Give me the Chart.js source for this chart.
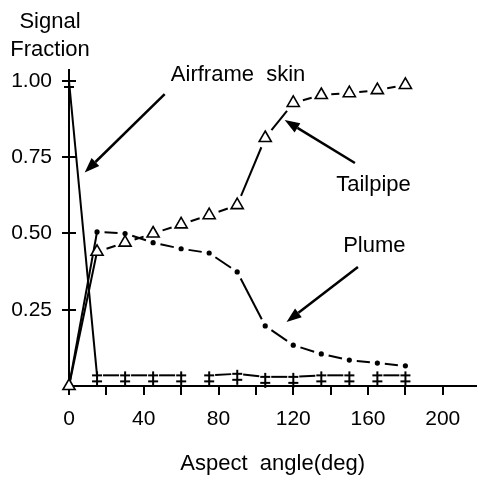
<!DOCTYPE html>
<html>
<head>
<meta charset="utf-8">
<script src="https://cdn.jsdelivr.net/npm/chart.js@4/dist/chart.umd.min.js"></script>
<style>
html,body{margin:0;padding:0;background:#fff;}
canvas{display:block;}
</style>
</head>
<body>
<canvas id="c" width="485" height="480" style="width:485px;height:480px"></canvas>
<script>
// ---- data ----
const angles       = [0, 15, 30, 45, 60, 75, 90, 105, 120, 135, 150, 165, 180];
const airframeSkin = [1.00, 0.035, 0.035, 0.035, 0.035, 0.035, 0.04, 0.03, 0.03, 0.035, 0.035, 0.035, 0.035];
const tailpipe     = [0.00, 0.44, 0.47, 0.50, 0.53, 0.56, 0.593, 0.813, 0.928, 0.954, 0.96, 0.97, 0.987];
const plume        = [0.00, 0.505, 0.50, 0.47, 0.45, 0.436, 0.374, 0.197, 0.134, 0.105, 0.085, 0.075, 0.066];
const xTickValues  = [0, 20, 40, 60, 80, 100, 120, 140, 160, 180, 200];
const xLabelEvery  = 40;
const yTickValues  = [0.25, 0.50, 0.75, 1.00];
const yTitleLines  = ['Signal', 'Fraction'];
const xTitle       = 'Aspect  angle(deg)';
// annotations: label text, label anchor (data units), arrow tail -> head (data units)
const annotations = [
  {text: 'Airframe  skin', at: [54.5, 1.02], from: [51.2, 0.957], to: [8.4, 0.70]},
  {text: 'Tailpipe',       at: [143.0, 0.66], from: [153.0, 0.731], to: [115.4, 0.872]},
  {text: 'Plume',          at: [146.7, 0.46], from: [154.6, 0.39], to: [116.4, 0.21]}
];

const FONT = '"Liberation Sans", Arial, sans-serif';

function pts(ys){ return angles.map((a,i)=>({x:a, y:ys[i]})); }

// double-cross marker (upper bar sits on the data point)
function doubleCross(){
  const c = document.createElement('canvas');
  c.width = 12; c.height = 26;
  const g = c.getContext('2d');
  g.strokeStyle = '#000'; g.lineWidth = 2;
  g.beginPath();
  g.moveTo(6, 9); g.lineTo(6, 24);
  g.moveTo(1, 13); g.lineTo(11, 13);
  g.moveTo(1, 19); g.lineTo(11, 19);
  g.stroke();
  return c;
}

// segment style: first segment solid, later ones a single dash with gaps at the markers
function segDash(gap){
  return ctx => {
    if (ctx.p0DataIndex === 0) return [];
    const len = Math.hypot(ctx.p1.x - ctx.p0.x, ctx.p1.y - ctx.p0.y);
    const d = Math.max(len - 2*gap, 1);
    return [d, 2*gap + 400];
  };
}
function segOffset(gap){
  return ctx => ctx.p0DataIndex === 0 ? 0 : -gap;
}

const axisTicksPlugin = {
  id: 'axisTicks',
  afterDraw(chart){
    const c = chart.ctx, y = chart.scales.y, x = chart.scales.x, ca = chart.chartArea;
    c.save();
    c.strokeStyle = '#000'; c.lineWidth = 2;
    c.beginPath();
    yTickValues.forEach(v => {
      const py = Math.round(y.getPixelForValue(v));
      c.moveTo(ca.left - 7, py); c.lineTo(ca.left + 7, py);
    });
    xTickValues.forEach(v => {
      if (v === 0) return;
      const px = Math.round(x.getPixelForValue(v));
      c.moveTo(px, ca.bottom); c.lineTo(px, ca.bottom + 9);
    });
    c.stroke();
    c.restore();
  }
};

const textPlugin = {
  id: 'texts',
  afterDatasetsDraw(chart){
    const c = chart.ctx, xs = chart.scales.x, ys = chart.scales.y;
    c.save();
    c.fillStyle = '#000';
    c.font = '22px ' + FONT;
    c.textAlign = 'center';
    c.textBaseline = 'alphabetic';
    c.fillText(yTitleLines[0], 50, 28);
    c.fillText(yTitleLines[1], 50, 56);
    c.textAlign = 'left';
    c.textBaseline = 'middle';
    annotations.forEach(a => {
      c.fillText(a.text, xs.getPixelForValue(a.at[0]), ys.getPixelForValue(a.at[1]));
      const x0 = xs.getPixelForValue(a.from[0]), y0 = ys.getPixelForValue(a.from[1]);
      const x1 = xs.getPixelForValue(a.to[0]),   y1 = ys.getPixelForValue(a.to[1]);
      const ang = Math.atan2(y1 - y0, x1 - x0);
      const hl = 15, hw = 5.5;
      const bx = x1 - hl*Math.cos(ang), by = y1 - hl*Math.sin(ang);
      c.strokeStyle = '#000'; c.lineWidth = 2.5;
      c.beginPath(); c.moveTo(x0, y0); c.lineTo(bx, by); c.stroke();
      c.beginPath();
      c.moveTo(x1, y1);
      c.lineTo(bx + hw*Math.sin(ang), by - hw*Math.cos(ang));
      c.lineTo(bx - hw*Math.sin(ang), by + hw*Math.cos(ang));
      c.closePath(); c.fill();
    });
    c.restore();
  }
};

const cross = doubleCross();

new Chart(document.getElementById('c'), {
  type: 'scatter',
  data: {
    datasets: [
      {
        label: 'Tailpipe', data: pts(tailpipe), showLine: true, clip: false,
        borderColor: '#000', borderWidth: 2,
        pointStyle: 'triangle', pointRadius: 7, pointBorderWidth: 1.6,
        pointBackgroundColor: '#fff', pointBorderColor: '#000',
        segment: {borderDash: segDash(10), borderDashOffset: segOffset(10)}
      },
      {
        label: 'Plume', data: pts(plume), showLine: true, clip: false,
        borderColor: '#000', borderWidth: 2,
        pointStyle: 'circle', pointRadius: 2.6, pointBorderWidth: 0,
        pointBackgroundColor: '#000', pointBorderColor: '#000',
        segment: {borderDash: segDash(7.5), borderDashOffset: segOffset(7.5)}
      },
      {
        label: 'Airframe skin', data: pts(airframeSkin), showLine: true, clip: false,
        borderColor: '#000', borderWidth: 2,
        pointStyle: cross, pointRadius: 6,
        segment: {borderDash: segDash(6), borderDashOffset: segOffset(6)}
      }
    ]
  },
  options: {
    responsive: false,
    animation: false,
    devicePixelRatio: 1,
    layout: {padding: {top: 70, right: 0, left: 0, bottom: 0}},
    plugins: {legend: {display: false}, tooltip: {enabled: false}},
    elements: {line: {tension: 0}},
    scales: {
      x: {
        type: 'linear', min: 0, max: 218,
        afterFit: s => { s.height = 94; },
        afterBuildTicks: s => { s.ticks = xTickValues.map(v => ({value: v})); },
        border: {display: true, color: '#000', width: 2},
        grid: {display: true, drawOnChartArea: false, drawTicks: true, tickLength: 9, color: '#000', lineWidth: 2},
        ticks: {
          color: '#000', font: {family: FONT, size: 21}, padding: 12, maxRotation: 0, autoSkip: false,
          callback: v => (v % xLabelEvery === 0 ? String(v) : '')
        },
        title: {display: true, text: xTitle, color: '#000', font: {family: FONT, size: 22}, padding: {top: 0, bottom: 3}}
      },
      y: {
        type: 'linear', min: 0, max: 1.036,
        afterFit: s => { s.width = 69; },
        afterBuildTicks: s => { s.ticks = yTickValues.map(v => ({value: v})); },
        border: {display: true, color: '#000', width: 2},
        grid: {display: true, drawOnChartArea: false, drawTicks: true, tickLength: 7, color: '#000', lineWidth: 2},
        ticks: {
          color: '#000', font: {family: FONT, size: 21}, padding: 10,
          callback: v => Number(v).toFixed(2)
        }
      }
    }
  },
  plugins: [axisTicksPlugin, textPlugin]
});
</script>
</body>
</html>
